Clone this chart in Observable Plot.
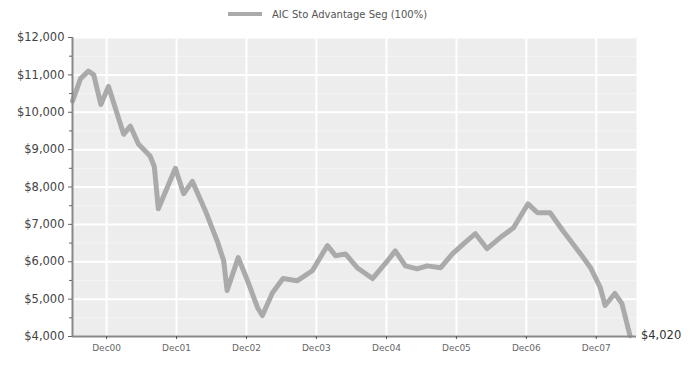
<!DOCTYPE html>
<html>
<head>
<meta charset="utf-8">
<script src="https://cdn.jsdelivr.net/npm/d3@7"></script>
<script src="https://cdn.jsdelivr.net/npm/@observablehq/plot@0.6"></script>
<style>
  body { margin: 0; background: #fff; font-family: "DejaVu Sans", sans-serif; }
  #legend { height: 28px; display: flex; align-items: center; justify-content: flex-start; padding-left: 228px; box-sizing: border-box; font-size: 10px; color: #555; }
  #legend .sw { width: 34px; height: 4px; background: #aaaaaa; margin-right: 10px; }
</style>
</head>
<body>
<div id="legend"><span class="sw"></span><span id="legend-text"></span></div>
<div id="chart"></div>
<script>
const seriesName = "AIC Sto Advantage Seg (100%)";
const dates = [
  "2000-06-06","2000-07-18","2000-08-28","2000-09-25","2000-11-01","2000-12-11",
  "2001-02-28","2001-04-04","2001-05-16","2001-07-16","2001-08-07","2001-08-28",
  "2001-11-25","2002-01-07","2002-02-22","2002-05-01","2002-07-01","2002-08-04",
  "2002-08-22","2002-10-19","2002-12-07","2003-01-28","2003-02-22","2003-04-16",
  "2003-06-10","2003-08-22","2003-11-10","2004-01-01","2004-01-28","2004-03-10",
  "2004-05-01","2004-07-01","2004-09-19","2004-12-07","2005-01-16","2005-03-10",
  "2005-05-10","2005-07-01","2005-09-10","2005-11-10","2006-01-07","2006-03-10",
  "2006-05-10","2006-07-16","2006-09-25","2006-12-10","2007-01-28","2007-04-04",
  "2007-06-10","2007-09-10","2007-11-01","2007-12-22","2008-01-16","2008-03-07",
  "2008-04-13","2008-05-25"
];
const values = [
  10300, 10900, 11100, 11000, 10210, 10690,
  9410, 9630, 9150, 8830, 8550, 7420,
  8500, 7820, 8150, 7360, 6560, 6030,
  5230, 6110, 5490, 4770, 4560, 5170,
  5550, 5490, 5760, 6210, 6430, 6160,
  6210, 5840, 5550, 6030, 6290, 5890,
  5810, 5890, 5840, 6210, 6480, 6750,
  6350, 6640, 6910, 7550, 7310, 7310,
  6830, 6210, 5840, 5310, 4830, 5150,
  4880, 4020
];
const xTickDates = ["2000-12-01","2001-12-01","2002-12-01","2003-12-01","2004-12-01","2005-12-01","2006-12-01","2007-12-01"];
const xTickLabels = ["Dec00","Dec01","Dec02","Dec03","Dec04","Dec05","Dec06","Dec07"];
const yTicks = [4000, 5000, 6000, 7000, 8000, 9000, 10000, 11000, 12000];
const yTickLabels = ["$4,000","$5,000","$6,000","$7,000","$8,000","$9,000","$10,000","$11,000","$12,000"];
const yMinorTicks = [4500, 5500, 6500, 7500, 8500, 9500, 10500, 11500];
const endLabel = "$4,020";

document.getElementById("legend-text").textContent = seriesName;

const data = dates.map((d, i) => ({date: new Date(d), value: values[i]}));
const xTicks = xTickDates.map(d => new Date(d));
const xDomain = [new Date("2000-06-06"), new Date("2008-06-28")];
const last = data[data.length - 1];

const chart = Plot.plot({
  width: 694,
  height: 338,
  marginTop: 9,
  marginBottom: 30,
  marginLeft: 72,
  marginRight: 58,
  style: {fontFamily: "DejaVu Sans, sans-serif", background: "#fff", overflow: "visible"},
  x: {type: "utc", domain: xDomain, label: null},
  y: {domain: [4000, 12000], label: null},
  marks: [
    Plot.frame({fill: "#ededed", stroke: null}),
    Plot.gridY(yMinorTicks, {stroke: "#f5f5f5", strokeOpacity: 1, strokeWidth: 1}),
    Plot.gridY(yTicks, {stroke: "#ffffff", strokeOpacity: 1, strokeWidth: 2}),
    Plot.gridX(xTicks, {stroke: "#ffffff", strokeOpacity: 1, strokeWidth: 2}),
    Plot.line(data, {x: "date", y: "value", stroke: "#aaaaaa", strokeWidth: 5, strokeLinejoin: "round", strokeLinecap: "round"}),
    Plot.ruleX([xDomain[0]], {stroke: "#888", strokeWidth: 2}),
    Plot.ruleY([4000], {stroke: "#888", strokeWidth: 2}),
    Plot.axisY(yMinorTicks, {tickSize: 3, tickFormat: () => "", stroke: "#666", label: null}),
    Plot.axisY(yTicks, {tickSize: 4, tickPadding: 4, fontSize: 11.5, fill: "#444", stroke: "#666", label: null,
      tickFormat: d => yTickLabels[yTicks.indexOf(d)]}),
    Plot.axisX(xTicks, {tickSize: 3, tickPadding: 5, fontSize: 9, fill: "#666", stroke: "#555", label: null,
      tickFormat: d => xTickLabels[xTicks.findIndex(t => +t === +d)]}),
    Plot.text([last], {x: "date", y: "value", text: () => endLabel, dx: 11, textAnchor: "start",
      fontSize: 11.5, fill: "#333", clip: false})
  ]
});
document.getElementById("chart").appendChild(chart);
</script>
</body>
</html>
